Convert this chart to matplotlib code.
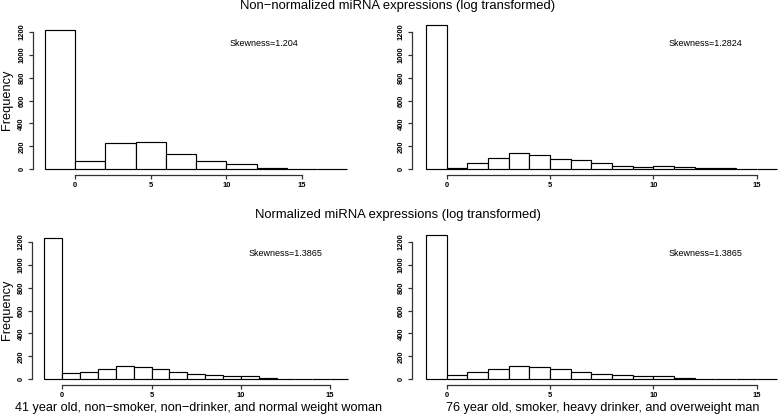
import matplotlib
matplotlib.use("Agg")
import matplotlib.pyplot as plt
import numpy as np

plt.rcParams['font.family'] = ['Liberation Sans', 'DejaVu Sans']

# ---- data (histogram counts) ----
edges_tl = list(range(-2, 19, 2))
counts_tl = [1215, 70, 232, 235, 133, 70, 43, 9, 5, 1]

edges_tr = list(range(-1, 17))
counts_tr = [1257, 14, 58, 96, 145, 122, 92, 78, 55, 31, 23, 29, 17, 8, 8, 1, 1]

edges_bl = list(range(-1, 17))
counts_bl = [1235, 58, 66, 87, 119, 110, 87, 66, 49, 40, 25, 27, 12, 5, 5, 1, 1]

edges_br = list(range(-1, 17))
counts_br = [1258, 40, 66, 87, 119, 110, 87, 66, 49, 40, 25, 27, 12, 5, 5, 1, 1]

skew_labels = ["Skewness=1.204", "Skewness=1.2824", "Skewness=1.3865", "Skewness=1.3865"]
title_top = "Non\u2212normalized miRNA expressions (log transformed)"
title_bottom = "Normalized miRNA expressions (log transformed)"
xlab_bl = "41 year old, non\u2212smoker, non\u2212drinker, and normal weight woman"
xlab_br = "76 year old, smoker, heavy drinker, and overweight man"
xticks = [0, 5, 10, 15]
yticks = [0, 200, 400, 600, 800, 1000, 1200]

W, H = 778, 416
fig = plt.figure(figsize=(W / 100, H / 100), dpi=100)


def make_axes(px0, sx, xlim, py0, sy, ylim):
    left = px0 + xlim[0] * sx
    right = px0 + xlim[1] * sx
    bottom = py0 - ylim[0] * sy
    top = py0 - ylim[1] * sy
    ax = fig.add_axes([left / W, 1 - bottom / H, (right - left) / W, (bottom - top) / H])
    ax.set_xlim(*xlim)
    ax.set_ylim(*ylim)
    return ax


def draw(ax, edges, counts, skew):
    edges = np.array(edges, dtype=float)
    widths = np.diff(edges)
    ax.bar(edges[:-1], counts, width=widths, align='edge', color='white',
           edgecolor='black', linewidth=0.85, clip_on=False)
    for s in ['top', 'right']:
        ax.spines[s].set_visible(False)
    ax.spines['bottom'].set_bounds(0, 15)
    ax.spines['left'].set_bounds(0, 1200)
    for s in ['bottom', 'left']:
        ax.spines[s].set_linewidth(0.9)
        ax.spines[s].set_color('#333333')
    ax.set_xticks(xticks)
    ax.set_yticks(yticks)
    ax.tick_params(axis='both', direction='out', length=3, width=0.9,
                   color='#333333', labelsize=5.4, pad=2.3)
    for lab in ax.get_xticklabels() + ax.get_yticklabels():
        lab.set_fontweight('bold')
    for lab in ax.get_yticklabels():
        lab.set_rotation(90)
        lab.set_va('center')
    ax.text(12.5, 1100, skew, ha='center', va='center', fontsize=6.5)
    ax.patch.set_alpha(0)


sy_top = 137.6 / 1200
sy_bot = 137.6 / 1200
ax1 = make_axes(75.0, 15.13, (-2.8, 18.8), 169.3, sy_top, (-49.6, 1300))
ax2 = make_axes(446.7, 20.67, (-1.68, 16.68), 169.3, sy_top, (-49.6, 1300))
ax3 = make_axes(62.3, 17.85, (-1.68, 16.68), 379.3, sy_bot, (-49.7, 1300))
ax4 = make_axes(446.7, 20.67, (-1.68, 16.68), 379.3, sy_bot, (-49.7, 1300))

draw(ax1, edges_tl, counts_tl, skew_labels[0])
draw(ax2, edges_tr, counts_tr, skew_labels[1])
draw(ax3, edges_bl, counts_bl, skew_labels[2])
draw(ax4, edges_br, counts_br, skew_labels[3])

fig.text(397.5 / W, 1 - 5.5 / H, title_top, ha='center', va='center', fontsize=9.35)
fig.text(397.5 / W, 1 - 215 / H, title_bottom, ha='center', va='center', fontsize=9.35)
fig.text(198.3 / W, 1 - 408 / H, xlab_bl, ha='center', va='center', fontsize=9.1)
fig.text(603 / W, 1 - 408 / H, xlab_br, ha='center', va='center', fontsize=9.1)
fig.text(6.7 / W, 1 - 100 / H, "Frequency", ha='center', va='center', rotation=90, fontsize=9.2)
fig.text(6.7 / W, 1 - 310 / H, "Frequency", ha='center', va='center', rotation=90, fontsize=9.2)

fig.savefig("out.png", dpi=100)
